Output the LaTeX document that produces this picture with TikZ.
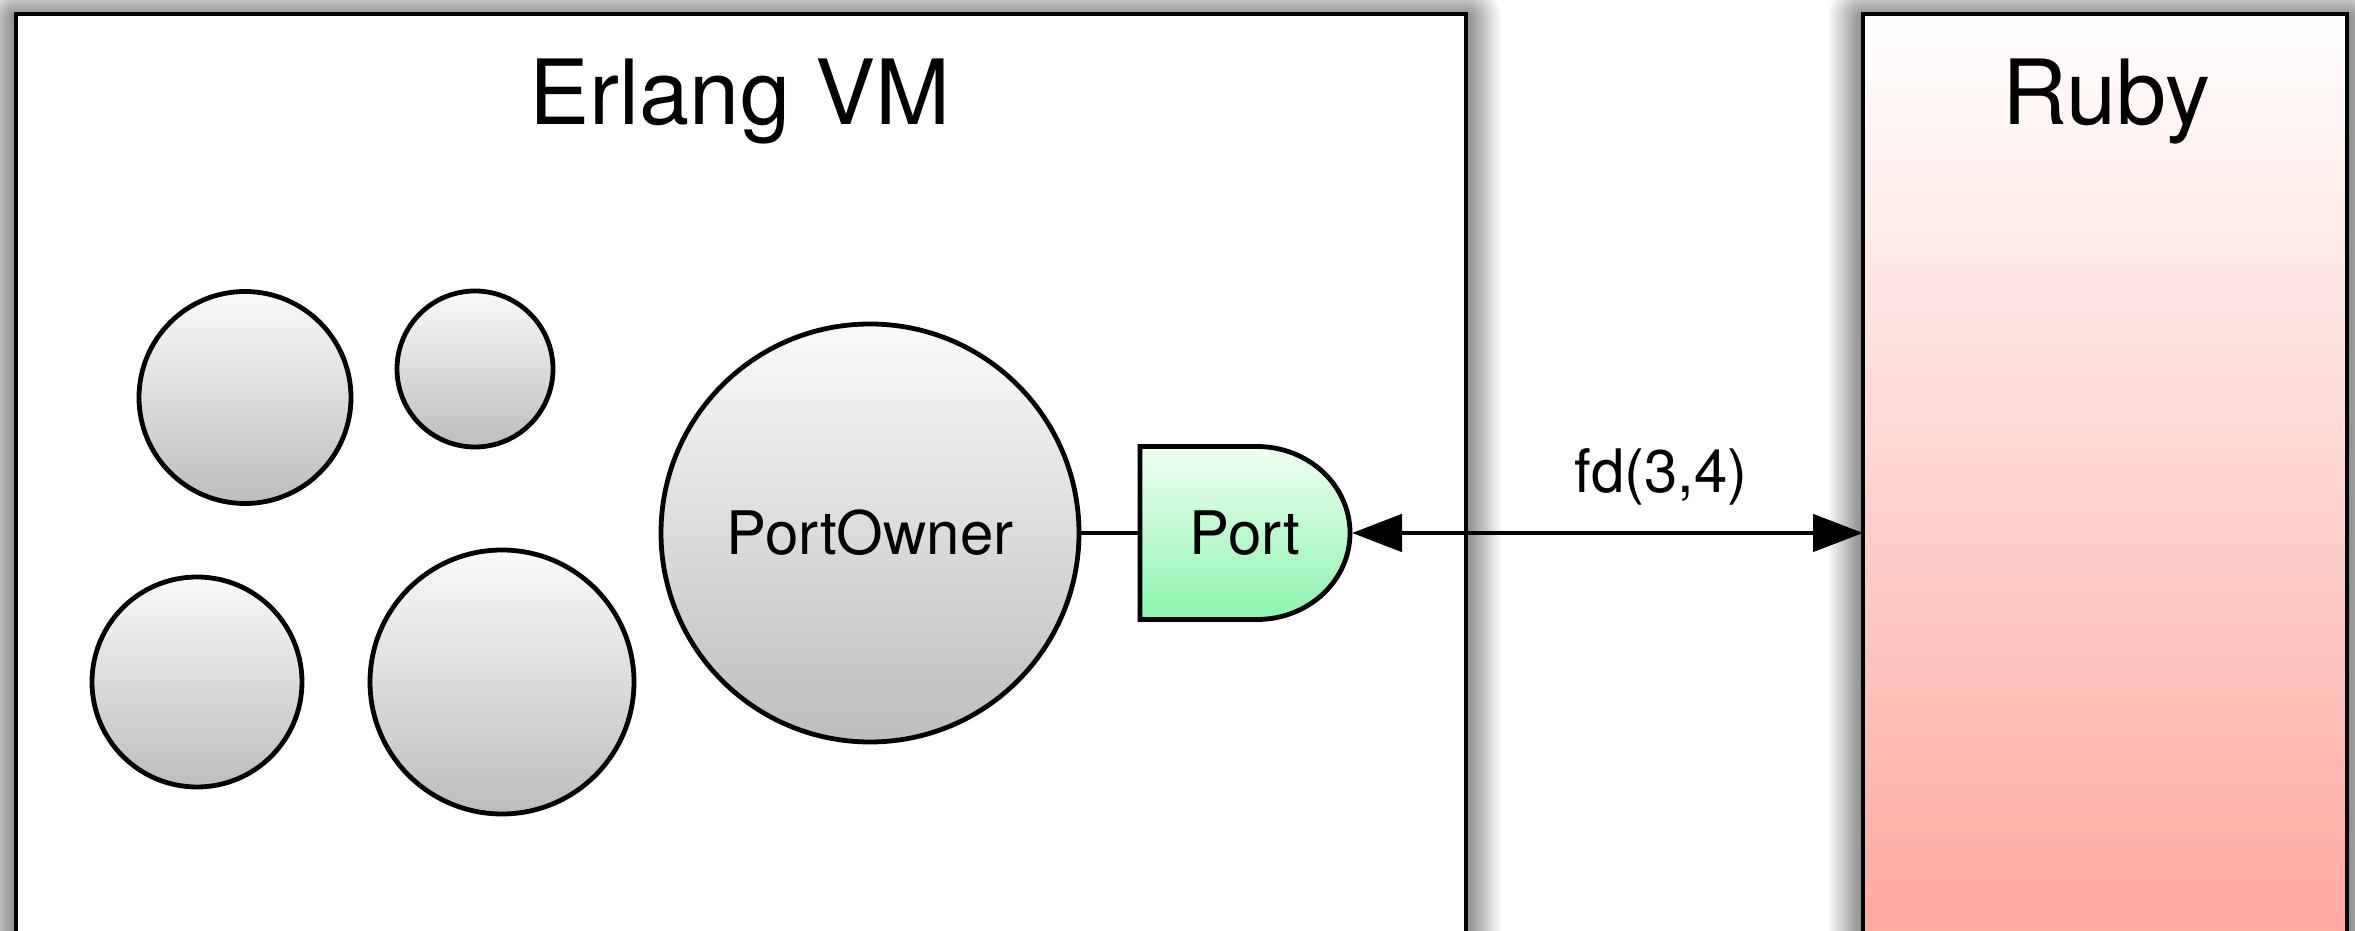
\documentclass[tikz,border=0pt]{standalone}
\usepackage{fontspec}
\setmainfont{TeX Gyre Heros}
\usetikzlibrary{arrows.meta,shadows.blur}
\definecolor{procTop}{HTML}{FAFAFA}
\definecolor{procBot}{HTML}{BDBDBD}
\definecolor{portTop}{HTML}{F0FFF2}
\definecolor{portBot}{HTML}{8CF5AE}
\definecolor{rubyTop}{HTML}{FFFFFF}
\definecolor{rubyBot}{HTML}{FFA69D}
\begin{document}
\begin{tikzpicture}[x=0.5pt,y=0.5pt,line width=2.4pt,
  every node/.style={inner sep=0pt,outer sep=0pt},
  boxshadow/.style={blur shadow={shadow xshift=0pt,shadow yshift=-2pt,
      shadow blur radius=18pt,shadow blur steps=30,shadow opacity=95}},
  frame/.style={rectangle,draw=black,boxshadow},
  proc/.style={circle,draw=black,top color=procTop,bottom color=procBot},
  lbl/.style={font=\fontsize{30pt}{36pt}\selectfont},
  title/.style={font=\fontsize{45pt}{54pt}\selectfont,anchor=base},
  portshape/.style={draw=black,top color=portTop,bottom color=portBot},
  >={Triangle[length=25pt,width=18.5pt]},
]
\useasboundingbox (0,0) rectangle (2355,931);
\clip (0,0) rectangle (2355,931);

% the two runtimes
\node[frame,fill=white,minimum width=725pt,minimum height=478.5pt] (erlang) at (741,438.5) {};
\node[frame,top color=rubyTop,bottom color=rubyBot,minimum width=242pt,minimum height=478.5pt] (ruby) at (2105,438.5) {};
\node[title] (erlangtitle) at (740,806) {Erlang VM};
\node[title] (rubytitle) at (2106,806) {Ruby};

% Erlang processes
\node[proc,minimum size=106pt] (p1) at (245,533.5) {};
\node[proc,minimum size=78pt] (p2) at (475,562) {};
\node[proc,minimum size=105pt] (p3) at (197,249) {};
\node[proc,minimum size=132pt] (p4) at (502,249) {};
\node[proc,lbl,minimum size=209pt] (owner) at (870,398) {PortOwner};

% the port
\node[minimum width=105pt,minimum height=86.5pt] (port) at (1245,398) {};
\draw[portshape] (port.north west) -- ([xshift=-46.5pt]port.north east)
  arc[start angle=90,end angle=-90,x radius=46.5pt,y radius=43.25pt]
  -- (port.south west) -- cycle;
\node[lbl] (portlabel) at (port.center) {Port};

% links
\draw (owner.east) -- (port.west);
\draw[<->] ([xshift=1pt]port.east) -- (port.east -| ruby.west);
\node[lbl,anchor=base] (fd) at (1661,438) {fd(3,4)};
\end{tikzpicture}
\end{document}
